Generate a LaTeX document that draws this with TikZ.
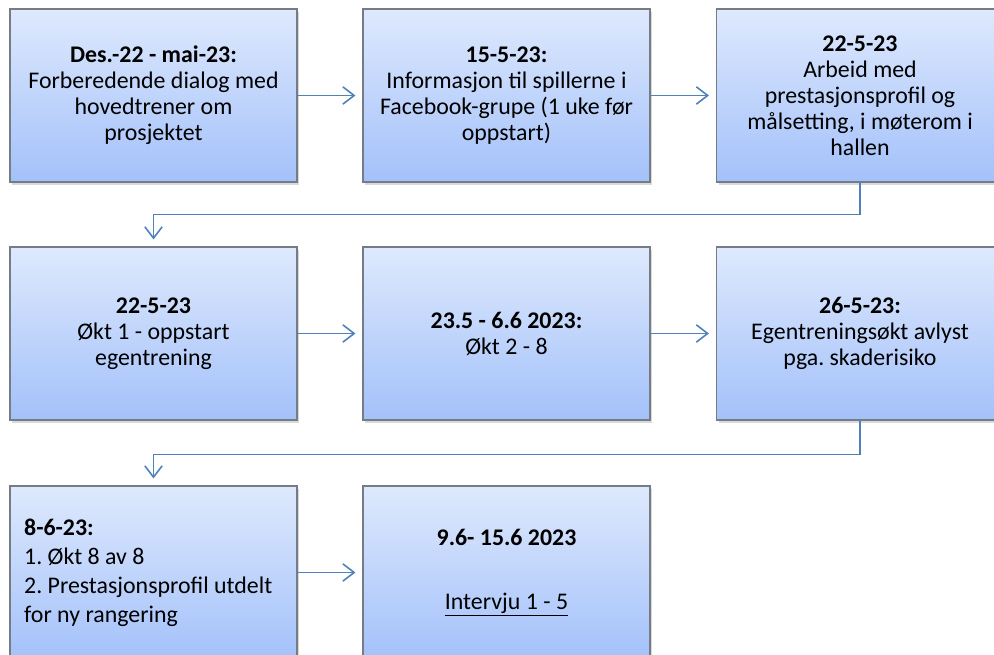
\documentclass[tikz,border=0pt]{standalone}
\usepackage{fontspec}
\setmainfont{Carlito}
\usetikzlibrary{arrows.meta, positioning, shadows}
\definecolor{boxtop}{RGB}{222,233,253}
\definecolor{boxbottom}{RGB}{163,193,250}
\definecolor{boxline}{RGB}{118,124,134}
\definecolor{linkblue}{RGB}{79,129,189}

\begin{document}
\begin{tikzpicture}[x=0.75pt, y=-0.75pt,
    stepbox/.style={draw=boxline, line width=0.8pt, top color=boxtop, bottom color=boxbottom,
      minimum width=215.25pt, minimum height=129.75pt, align=center, inner sep=0pt,
      font=\fontsize{17.9}{19.5}\selectfont\frenchspacing,
      drop shadow={shadow xshift=1.5pt, shadow yshift=-2pt, opacity=0.3}},
    link/.style={draw=linkblue, line width=1.2pt, shorten >=5.25pt,
      -{Straight Barb[length=8.5pt,width=13pt]}}]
  \useasboundingbox (0,0) rectangle (994,655);
  \clip (0,0) rectangle (994,655);
  % row 1
  \node[stepbox] (b1) at (153.5,95.5) {\textbf{Des.-22 - mai-23:}\\Forberedende dialog med\\hovedtrener om\\prosjektet};
  \node[stepbox] (b2) at (506.5,95.5) {\textbf{15-5-23:}\\Informasjon til spillerne i\\Facebook-grupe (1 uke før\\oppstart)};
  \node[stepbox] (b3) at (860,95.5) {\textbf{22-5-23}\\Arbeid med\\prestasjonsprofil og\\målsetting, i møterom i\\hallen};
  % row 2
  \node[stepbox] (b4) at (153.5,333.5) {\textbf{22-5-23}\\Økt 1 - oppstart\\egentrening};
  \node[stepbox] (b5) at (506.5,333.5) {\textbf{23.5 - 6.6 2023:}\\Økt 2 - 8};
  \node[stepbox] (b6) at (860,333.5) {\textbf{26-5-23:}\\Egentreningsøkt avlyst\\pga. skaderisiko};
  % row 3
  \node[stepbox, align=flush left, text width=194pt, font=\fontsize{17.9}{21.75}\selectfont\frenchspacing] (b7) at (153.5,572.5) {\textbf{8-6-23:}\\1. Økt 8 av 8\\2. Prestasjonsprofil utdelt\\for ny rangering};
  \node[stepbox] (b8) at (506.5,572.5) {\textbf{9.6- 15.6 2023}\\[28.5pt]\underline{Intervju 1 - 5}};
  % connectors
  \draw[link] (b1) -- (b2);
  \draw[link] (b2) -- (b3);
  \draw[link] (b3.south) -- ++(0,32) -| (b4.north);
  \draw[link] (b4) -- (b5);
  \draw[link] (b5) -- (b6);
  \draw[link] (b6.south) -- ++(0,34) -| (b7.north);
  \draw[link] (b7) -- (b8);
\end{tikzpicture}
\end{document}
